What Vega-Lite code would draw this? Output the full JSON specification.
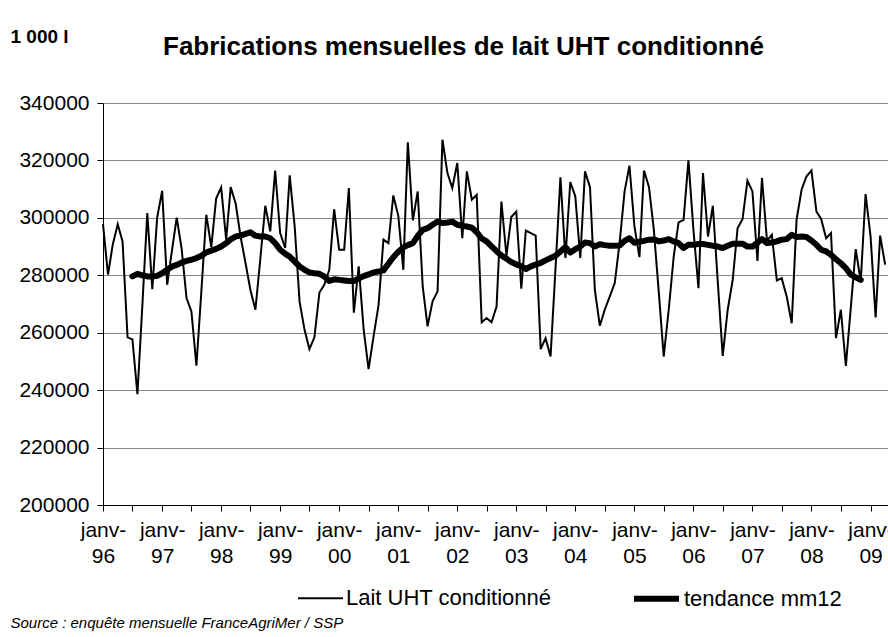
{
  "$schema": "https://vega.github.io/schema/vega-lite/v6.json",
  "autosize": "none",
  "width": 792,
  "height": 402,
  "padding": {"left": 103, "top": 103, "right": 0, "bottom": 132},
  "background": "white",
  "config": {
    "font": "Liberation Sans",
    "view": {"stroke": null}
  },
  "title": {
    "text": "Fabrications mensuelles de lait UHT conditionné",
    "font": "Liberation Sans",
    "fontSize": 26,
    "fontWeight": "bold",
    "color": "black",
    "anchor": "start",
    "frame": "group",
    "baseline": "alphabetic",
    "offset": 0,
    "dx": 60,
    "dy": 54
  },
  "data": {
    "values": [
      {"d": "1996-01-01", "s": "Lait UHT conditionné", "v": 297800},
      {"d": "1996-02-01", "s": "Lait UHT conditionné", "v": 280200},
      {"d": "1996-03-01", "s": "Lait UHT conditionné", "v": 290600},
      {"d": "1996-04-01", "s": "Lait UHT conditionné", "v": 297800},
      {"d": "1996-05-01", "s": "Lait UHT conditionné", "v": 291800},
      {"d": "1996-06-01", "s": "Lait UHT conditionné", "v": 258400},
      {"d": "1996-07-01", "s": "Lait UHT conditionné", "v": 257700},
      {"d": "1996-08-01", "s": "Lait UHT conditionné", "v": 238600},
      {"d": "1996-09-01", "s": "Lait UHT conditionné", "v": 270000},
      {"d": "1996-10-01", "s": "Lait UHT conditionné", "v": 301700},
      {"d": "1996-11-01", "s": "Lait UHT conditionné", "v": 275200},
      {"d": "1996-12-01", "s": "Lait UHT conditionné", "v": 300100},
      {"d": "1997-01-01", "s": "Lait UHT conditionné", "v": 309400},
      {"d": "1997-02-01", "s": "Lait UHT conditionné", "v": 276700},
      {"d": "1997-03-01", "s": "Lait UHT conditionné", "v": 288000},
      {"d": "1997-04-01", "s": "Lait UHT conditionné", "v": 300100},
      {"d": "1997-05-01", "s": "Lait UHT conditionné", "v": 289500},
      {"d": "1997-06-01", "s": "Lait UHT conditionné", "v": 272000},
      {"d": "1997-07-01", "s": "Lait UHT conditionné", "v": 267400},
      {"d": "1997-08-01", "s": "Lait UHT conditionné", "v": 248500},
      {"d": "1997-09-01", "s": "Lait UHT conditionné", "v": 274800},
      {"d": "1997-10-01", "s": "Lait UHT conditionné", "v": 301100},
      {"d": "1997-11-01", "s": "Lait UHT conditionné", "v": 289800},
      {"d": "1997-12-01", "s": "Lait UHT conditionné", "v": 306700},
      {"d": "1998-01-01", "s": "Lait UHT conditionné", "v": 310600},
      {"d": "1998-02-01", "s": "Lait UHT conditionné", "v": 292400},
      {"d": "1998-03-01", "s": "Lait UHT conditionné", "v": 310700},
      {"d": "1998-04-01", "s": "Lait UHT conditionné", "v": 304900},
      {"d": "1998-05-01", "s": "Lait UHT conditionné", "v": 293500},
      {"d": "1998-06-01", "s": "Lait UHT conditionné", "v": 284200},
      {"d": "1998-07-01", "s": "Lait UHT conditionné", "v": 274900},
      {"d": "1998-08-01", "s": "Lait UHT conditionné", "v": 268000},
      {"d": "1998-09-01", "s": "Lait UHT conditionné", "v": 286100},
      {"d": "1998-10-01", "s": "Lait UHT conditionné", "v": 304200},
      {"d": "1998-11-01", "s": "Lait UHT conditionné", "v": 295300},
      {"d": "1998-12-01", "s": "Lait UHT conditionné", "v": 316500},
      {"d": "1999-01-01", "s": "Lait UHT conditionné", "v": 294700},
      {"d": "1999-02-01", "s": "Lait UHT conditionné", "v": 289500},
      {"d": "1999-03-01", "s": "Lait UHT conditionné", "v": 314800},
      {"d": "1999-04-01", "s": "Lait UHT conditionné", "v": 297000},
      {"d": "1999-05-01", "s": "Lait UHT conditionné", "v": 270900},
      {"d": "1999-06-01", "s": "Lait UHT conditionné", "v": 261000},
      {"d": "1999-07-01", "s": "Lait UHT conditionné", "v": 254300},
      {"d": "1999-08-01", "s": "Lait UHT conditionné", "v": 258400},
      {"d": "1999-09-01", "s": "Lait UHT conditionné", "v": 274000},
      {"d": "1999-10-01", "s": "Lait UHT conditionné", "v": 276700},
      {"d": "1999-11-01", "s": "Lait UHT conditionné", "v": 281900},
      {"d": "1999-12-01", "s": "Lait UHT conditionné", "v": 303000},
      {"d": "2000-01-01", "s": "Lait UHT conditionné", "v": 288900},
      {"d": "2000-02-01", "s": "Lait UHT conditionné", "v": 288900},
      {"d": "2000-03-01", "s": "Lait UHT conditionné", "v": 310400},
      {"d": "2000-04-01", "s": "Lait UHT conditionné", "v": 267000},
      {"d": "2000-05-01", "s": "Lait UHT conditionné", "v": 283100},
      {"d": "2000-06-01", "s": "Lait UHT conditionné", "v": 261000},
      {"d": "2000-07-01", "s": "Lait UHT conditionné", "v": 247300},
      {"d": "2000-08-01", "s": "Lait UHT conditionné", "v": 258700},
      {"d": "2000-09-01", "s": "Lait UHT conditionné", "v": 269700},
      {"d": "2000-10-01", "s": "Lait UHT conditionné", "v": 292400},
      {"d": "2000-11-01", "s": "Lait UHT conditionné", "v": 291200},
      {"d": "2000-12-01", "s": "Lait UHT conditionné", "v": 307800},
      {"d": "2001-01-01", "s": "Lait UHT conditionné", "v": 300700},
      {"d": "2001-02-01", "s": "Lait UHT conditionné", "v": 281900},
      {"d": "2001-03-01", "s": "Lait UHT conditionné", "v": 326300},
      {"d": "2001-04-01", "s": "Lait UHT conditionné", "v": 299100},
      {"d": "2001-05-01", "s": "Lait UHT conditionné", "v": 309200},
      {"d": "2001-06-01", "s": "Lait UHT conditionné", "v": 276100},
      {"d": "2001-07-01", "s": "Lait UHT conditionné", "v": 262200},
      {"d": "2001-08-01", "s": "Lait UHT conditionné", "v": 270900},
      {"d": "2001-09-01", "s": "Lait UHT conditionné", "v": 274400},
      {"d": "2001-10-01", "s": "Lait UHT conditionné", "v": 327200},
      {"d": "2001-11-01", "s": "Lait UHT conditionné", "v": 315600},
      {"d": "2001-12-01", "s": "Lait UHT conditionné", "v": 310400},
      {"d": "2002-01-01", "s": "Lait UHT conditionné", "v": 319100},
      {"d": "2002-02-01", "s": "Lait UHT conditionné", "v": 292900},
      {"d": "2002-03-01", "s": "Lait UHT conditionné", "v": 316200},
      {"d": "2002-04-01", "s": "Lait UHT conditionné", "v": 306300},
      {"d": "2002-05-01", "s": "Lait UHT conditionné", "v": 308000},
      {"d": "2002-06-01", "s": "Lait UHT conditionné", "v": 263600},
      {"d": "2002-07-01", "s": "Lait UHT conditionné", "v": 265100},
      {"d": "2002-08-01", "s": "Lait UHT conditionné", "v": 263600},
      {"d": "2002-09-01", "s": "Lait UHT conditionné", "v": 269100},
      {"d": "2002-10-01", "s": "Lait UHT conditionné", "v": 305700},
      {"d": "2002-11-01", "s": "Lait UHT conditionné", "v": 286800},
      {"d": "2002-12-01", "s": "Lait UHT conditionné", "v": 300300},
      {"d": "2003-01-01", "s": "Lait UHT conditionné", "v": 302200},
      {"d": "2003-02-01", "s": "Lait UHT conditionné", "v": 275300},
      {"d": "2003-03-01", "s": "Lait UHT conditionné", "v": 295600},
      {"d": "2003-04-01", "s": "Lait UHT conditionné", "v": 294700},
      {"d": "2003-05-01", "s": "Lait UHT conditionné", "v": 293800},
      {"d": "2003-06-01", "s": "Lait UHT conditionné", "v": 254300},
      {"d": "2003-07-01", "s": "Lait UHT conditionné", "v": 258100},
      {"d": "2003-08-01", "s": "Lait UHT conditionné", "v": 251700},
      {"d": "2003-09-01", "s": "Lait UHT conditionné", "v": 282800},
      {"d": "2003-10-01", "s": "Lait UHT conditionné", "v": 314100},
      {"d": "2003-11-01", "s": "Lait UHT conditionné", "v": 286000},
      {"d": "2003-12-01", "s": "Lait UHT conditionné", "v": 312500},
      {"d": "2004-01-01", "s": "Lait UHT conditionné", "v": 307500},
      {"d": "2004-02-01", "s": "Lait UHT conditionné", "v": 286000},
      {"d": "2004-03-01", "s": "Lait UHT conditionné", "v": 316200},
      {"d": "2004-04-01", "s": "Lait UHT conditionné", "v": 310700},
      {"d": "2004-05-01", "s": "Lait UHT conditionné", "v": 274900},
      {"d": "2004-06-01", "s": "Lait UHT conditionné", "v": 262400},
      {"d": "2004-07-01", "s": "Lait UHT conditionné", "v": 268000},
      {"d": "2004-08-01", "s": "Lait UHT conditionné", "v": 272600},
      {"d": "2004-09-01", "s": "Lait UHT conditionné", "v": 277300},
      {"d": "2004-10-01", "s": "Lait UHT conditionné", "v": 291200},
      {"d": "2004-11-01", "s": "Lait UHT conditionné", "v": 309200},
      {"d": "2004-12-01", "s": "Lait UHT conditionné", "v": 318200},
      {"d": "2005-01-01", "s": "Lait UHT conditionné", "v": 297000},
      {"d": "2005-02-01", "s": "Lait UHT conditionné", "v": 286300},
      {"d": "2005-03-01", "s": "Lait UHT conditionné", "v": 316500},
      {"d": "2005-04-01", "s": "Lait UHT conditionné", "v": 310700},
      {"d": "2005-05-01", "s": "Lait UHT conditionné", "v": 295800},
      {"d": "2005-06-01", "s": "Lait UHT conditionné", "v": 273800},
      {"d": "2005-07-01", "s": "Lait UHT conditionné", "v": 251700},
      {"d": "2005-08-01", "s": "Lait UHT conditionné", "v": 268000},
      {"d": "2005-09-01", "s": "Lait UHT conditionné", "v": 286600},
      {"d": "2005-10-01", "s": "Lait UHT conditionné", "v": 298400},
      {"d": "2005-11-01", "s": "Lait UHT conditionné", "v": 299300},
      {"d": "2005-12-01", "s": "Lait UHT conditionné", "v": 320000},
      {"d": "2006-01-01", "s": "Lait UHT conditionné", "v": 295800},
      {"d": "2006-02-01", "s": "Lait UHT conditionné", "v": 275500},
      {"d": "2006-03-01", "s": "Lait UHT conditionné", "v": 315600},
      {"d": "2006-04-01", "s": "Lait UHT conditionné", "v": 293500},
      {"d": "2006-05-01", "s": "Lait UHT conditionné", "v": 304200},
      {"d": "2006-06-01", "s": "Lait UHT conditionné", "v": 277300},
      {"d": "2006-07-01", "s": "Lait UHT conditionné", "v": 251900},
      {"d": "2006-08-01", "s": "Lait UHT conditionné", "v": 268000},
      {"d": "2006-09-01", "s": "Lait UHT conditionné", "v": 278400},
      {"d": "2006-10-01", "s": "Lait UHT conditionné", "v": 296400},
      {"d": "2006-11-01", "s": "Lait UHT conditionné", "v": 299600},
      {"d": "2006-12-01", "s": "Lait UHT conditionné", "v": 313000},
      {"d": "2007-01-01", "s": "Lait UHT conditionné", "v": 309200},
      {"d": "2007-02-01", "s": "Lait UHT conditionné", "v": 285000},
      {"d": "2007-03-01", "s": "Lait UHT conditionné", "v": 313900},
      {"d": "2007-04-01", "s": "Lait UHT conditionné", "v": 292000},
      {"d": "2007-05-01", "s": "Lait UHT conditionné", "v": 294100},
      {"d": "2007-06-01", "s": "Lait UHT conditionné", "v": 278200},
      {"d": "2007-07-01", "s": "Lait UHT conditionné", "v": 279000},
      {"d": "2007-08-01", "s": "Lait UHT conditionné", "v": 272600},
      {"d": "2007-09-01", "s": "Lait UHT conditionné", "v": 263300},
      {"d": "2007-10-01", "s": "Lait UHT conditionné", "v": 299300},
      {"d": "2007-11-01", "s": "Lait UHT conditionné", "v": 309800},
      {"d": "2007-12-01", "s": "Lait UHT conditionné", "v": 314400},
      {"d": "2008-01-01", "s": "Lait UHT conditionné", "v": 316500},
      {"d": "2008-02-01", "s": "Lait UHT conditionné", "v": 302200},
      {"d": "2008-03-01", "s": "Lait UHT conditionné", "v": 299600},
      {"d": "2008-04-01", "s": "Lait UHT conditionné", "v": 292900},
      {"d": "2008-05-01", "s": "Lait UHT conditionné", "v": 294700},
      {"d": "2008-06-01", "s": "Lait UHT conditionné", "v": 258100},
      {"d": "2008-07-01", "s": "Lait UHT conditionné", "v": 268000},
      {"d": "2008-08-01", "s": "Lait UHT conditionné", "v": 248400},
      {"d": "2008-09-01", "s": "Lait UHT conditionné", "v": 269100},
      {"d": "2008-10-01", "s": "Lait UHT conditionné", "v": 289100},
      {"d": "2008-11-01", "s": "Lait UHT conditionné", "v": 277800},
      {"d": "2008-12-01", "s": "Lait UHT conditionné", "v": 308300},
      {"d": "2009-01-01", "s": "Lait UHT conditionné", "v": 293500},
      {"d": "2009-02-01", "s": "Lait UHT conditionné", "v": 265300},
      {"d": "2009-03-01", "s": "Lait UHT conditionné", "v": 293800},
      {"d": "2009-04-01", "s": "Lait UHT conditionné", "v": 283700},
      {"d": "1996-07-01", "s": "tendance mm12", "v": 279600},
      {"d": "1996-08-01", "s": "tendance mm12", "v": 280500},
      {"d": "1996-09-01", "s": "tendance mm12", "v": 280000},
      {"d": "1996-10-01", "s": "tendance mm12", "v": 279600},
      {"d": "1996-11-01", "s": "tendance mm12", "v": 279600},
      {"d": "1996-12-01", "s": "tendance mm12", "v": 279800},
      {"d": "1997-01-01", "s": "tendance mm12", "v": 280700},
      {"d": "1997-02-01", "s": "tendance mm12", "v": 281900},
      {"d": "1997-03-01", "s": "tendance mm12", "v": 283000},
      {"d": "1997-04-01", "s": "tendance mm12", "v": 283600},
      {"d": "1997-05-01", "s": "tendance mm12", "v": 284400},
      {"d": "1997-06-01", "s": "tendance mm12", "v": 285000},
      {"d": "1997-07-01", "s": "tendance mm12", "v": 285400},
      {"d": "1997-08-01", "s": "tendance mm12", "v": 286000},
      {"d": "1997-09-01", "s": "tendance mm12", "v": 286800},
      {"d": "1997-10-01", "s": "tendance mm12", "v": 288000},
      {"d": "1997-11-01", "s": "tendance mm12", "v": 288600},
      {"d": "1997-12-01", "s": "tendance mm12", "v": 289200},
      {"d": "1998-01-01", "s": "tendance mm12", "v": 290000},
      {"d": "1998-02-01", "s": "tendance mm12", "v": 291200},
      {"d": "1998-03-01", "s": "tendance mm12", "v": 292500},
      {"d": "1998-04-01", "s": "tendance mm12", "v": 293500},
      {"d": "1998-05-01", "s": "tendance mm12", "v": 293800},
      {"d": "1998-06-01", "s": "tendance mm12", "v": 294400},
      {"d": "1998-07-01", "s": "tendance mm12", "v": 295000},
      {"d": "1998-08-01", "s": "tendance mm12", "v": 293800},
      {"d": "1998-09-01", "s": "tendance mm12", "v": 293500},
      {"d": "1998-10-01", "s": "tendance mm12", "v": 293500},
      {"d": "1998-11-01", "s": "tendance mm12", "v": 292900},
      {"d": "1998-12-01", "s": "tendance mm12", "v": 291200},
      {"d": "1999-01-01", "s": "tendance mm12", "v": 288900},
      {"d": "1999-02-01", "s": "tendance mm12", "v": 287500},
      {"d": "1999-03-01", "s": "tendance mm12", "v": 286500},
      {"d": "1999-04-01", "s": "tendance mm12", "v": 284800},
      {"d": "1999-05-01", "s": "tendance mm12", "v": 283100},
      {"d": "1999-06-01", "s": "tendance mm12", "v": 281900},
      {"d": "1999-07-01", "s": "tendance mm12", "v": 281000},
      {"d": "1999-08-01", "s": "tendance mm12", "v": 280700},
      {"d": "1999-09-01", "s": "tendance mm12", "v": 280500},
      {"d": "1999-10-01", "s": "tendance mm12", "v": 279600},
      {"d": "1999-11-01", "s": "tendance mm12", "v": 278000},
      {"d": "1999-12-01", "s": "tendance mm12", "v": 278600},
      {"d": "2000-01-01", "s": "tendance mm12", "v": 278400},
      {"d": "2000-02-01", "s": "tendance mm12", "v": 278200},
      {"d": "2000-03-01", "s": "tendance mm12", "v": 278000},
      {"d": "2000-04-01", "s": "tendance mm12", "v": 278000},
      {"d": "2000-05-01", "s": "tendance mm12", "v": 278900},
      {"d": "2000-06-01", "s": "tendance mm12", "v": 279700},
      {"d": "2000-07-01", "s": "tendance mm12", "v": 280300},
      {"d": "2000-08-01", "s": "tendance mm12", "v": 281000},
      {"d": "2000-09-01", "s": "tendance mm12", "v": 281300},
      {"d": "2000-10-01", "s": "tendance mm12", "v": 281700},
      {"d": "2000-11-01", "s": "tendance mm12", "v": 284000},
      {"d": "2000-12-01", "s": "tendance mm12", "v": 286300},
      {"d": "2001-01-01", "s": "tendance mm12", "v": 288200},
      {"d": "2001-02-01", "s": "tendance mm12", "v": 289700},
      {"d": "2001-03-01", "s": "tendance mm12", "v": 290500},
      {"d": "2001-04-01", "s": "tendance mm12", "v": 291200},
      {"d": "2001-05-01", "s": "tendance mm12", "v": 293700},
      {"d": "2001-06-01", "s": "tendance mm12", "v": 295800},
      {"d": "2001-07-01", "s": "tendance mm12", "v": 296400},
      {"d": "2001-08-01", "s": "tendance mm12", "v": 297600},
      {"d": "2001-09-01", "s": "tendance mm12", "v": 298700},
      {"d": "2001-10-01", "s": "tendance mm12", "v": 298200},
      {"d": "2001-11-01", "s": "tendance mm12", "v": 298400},
      {"d": "2001-12-01", "s": "tendance mm12", "v": 298700},
      {"d": "2002-01-01", "s": "tendance mm12", "v": 297600},
      {"d": "2002-02-01", "s": "tendance mm12", "v": 297200},
      {"d": "2002-03-01", "s": "tendance mm12", "v": 297000},
      {"d": "2002-04-01", "s": "tendance mm12", "v": 296600},
      {"d": "2002-05-01", "s": "tendance mm12", "v": 295000},
      {"d": "2002-06-01", "s": "tendance mm12", "v": 292800},
      {"d": "2002-07-01", "s": "tendance mm12", "v": 291800},
      {"d": "2002-08-01", "s": "tendance mm12", "v": 290100},
      {"d": "2002-09-01", "s": "tendance mm12", "v": 288400},
      {"d": "2002-10-01", "s": "tendance mm12", "v": 286900},
      {"d": "2002-11-01", "s": "tendance mm12", "v": 285800},
      {"d": "2002-12-01", "s": "tendance mm12", "v": 284600},
      {"d": "2003-01-01", "s": "tendance mm12", "v": 283800},
      {"d": "2003-02-01", "s": "tendance mm12", "v": 283100},
      {"d": "2003-03-01", "s": "tendance mm12", "v": 282200},
      {"d": "2003-04-01", "s": "tendance mm12", "v": 283100},
      {"d": "2003-05-01", "s": "tendance mm12", "v": 283700},
      {"d": "2003-06-01", "s": "tendance mm12", "v": 284300},
      {"d": "2003-07-01", "s": "tendance mm12", "v": 285200},
      {"d": "2003-08-01", "s": "tendance mm12", "v": 286000},
      {"d": "2003-09-01", "s": "tendance mm12", "v": 286800},
      {"d": "2003-10-01", "s": "tendance mm12", "v": 288300},
      {"d": "2003-11-01", "s": "tendance mm12", "v": 289800},
      {"d": "2003-12-01", "s": "tendance mm12", "v": 287900},
      {"d": "2004-01-01", "s": "tendance mm12", "v": 289100},
      {"d": "2004-02-01", "s": "tendance mm12", "v": 290000},
      {"d": "2004-03-01", "s": "tendance mm12", "v": 291400},
      {"d": "2004-04-01", "s": "tendance mm12", "v": 291200},
      {"d": "2004-05-01", "s": "tendance mm12", "v": 290000},
      {"d": "2004-06-01", "s": "tendance mm12", "v": 290800},
      {"d": "2004-07-01", "s": "tendance mm12", "v": 290500},
      {"d": "2004-08-01", "s": "tendance mm12", "v": 290300},
      {"d": "2004-09-01", "s": "tendance mm12", "v": 290300},
      {"d": "2004-10-01", "s": "tendance mm12", "v": 290400},
      {"d": "2004-11-01", "s": "tendance mm12", "v": 292000},
      {"d": "2004-12-01", "s": "tendance mm12", "v": 292900},
      {"d": "2005-01-01", "s": "tendance mm12", "v": 291300},
      {"d": "2005-02-01", "s": "tendance mm12", "v": 291700},
      {"d": "2005-03-01", "s": "tendance mm12", "v": 292000},
      {"d": "2005-04-01", "s": "tendance mm12", "v": 292400},
      {"d": "2005-05-01", "s": "tendance mm12", "v": 292500},
      {"d": "2005-06-01", "s": "tendance mm12", "v": 291800},
      {"d": "2005-07-01", "s": "tendance mm12", "v": 292100},
      {"d": "2005-08-01", "s": "tendance mm12", "v": 292600},
      {"d": "2005-09-01", "s": "tendance mm12", "v": 291800},
      {"d": "2005-10-01", "s": "tendance mm12", "v": 291200},
      {"d": "2005-11-01", "s": "tendance mm12", "v": 289500},
      {"d": "2005-12-01", "s": "tendance mm12", "v": 290600},
      {"d": "2006-01-01", "s": "tendance mm12", "v": 290600},
      {"d": "2006-02-01", "s": "tendance mm12", "v": 290900},
      {"d": "2006-03-01", "s": "tendance mm12", "v": 290900},
      {"d": "2006-04-01", "s": "tendance mm12", "v": 290600},
      {"d": "2006-05-01", "s": "tendance mm12", "v": 290300},
      {"d": "2006-06-01", "s": "tendance mm12", "v": 290000},
      {"d": "2006-07-01", "s": "tendance mm12", "v": 289500},
      {"d": "2006-08-01", "s": "tendance mm12", "v": 290300},
      {"d": "2006-09-01", "s": "tendance mm12", "v": 291000},
      {"d": "2006-10-01", "s": "tendance mm12", "v": 291000},
      {"d": "2006-11-01", "s": "tendance mm12", "v": 291000},
      {"d": "2006-12-01", "s": "tendance mm12", "v": 290000},
      {"d": "2007-01-01", "s": "tendance mm12", "v": 290000},
      {"d": "2007-02-01", "s": "tendance mm12", "v": 291400},
      {"d": "2007-03-01", "s": "tendance mm12", "v": 292600},
      {"d": "2007-04-01", "s": "tendance mm12", "v": 291200},
      {"d": "2007-05-01", "s": "tendance mm12", "v": 291400},
      {"d": "2007-06-01", "s": "tendance mm12", "v": 291800},
      {"d": "2007-07-01", "s": "tendance mm12", "v": 292400},
      {"d": "2007-08-01", "s": "tendance mm12", "v": 292600},
      {"d": "2007-09-01", "s": "tendance mm12", "v": 294100},
      {"d": "2007-10-01", "s": "tendance mm12", "v": 293300},
      {"d": "2007-11-01", "s": "tendance mm12", "v": 293500},
      {"d": "2007-12-01", "s": "tendance mm12", "v": 293300},
      {"d": "2008-01-01", "s": "tendance mm12", "v": 292100},
      {"d": "2008-02-01", "s": "tendance mm12", "v": 290600},
      {"d": "2008-03-01", "s": "tendance mm12", "v": 288900},
      {"d": "2008-04-01", "s": "tendance mm12", "v": 288300},
      {"d": "2008-05-01", "s": "tendance mm12", "v": 287100},
      {"d": "2008-06-01", "s": "tendance mm12", "v": 285600},
      {"d": "2008-07-01", "s": "tendance mm12", "v": 284200},
      {"d": "2008-08-01", "s": "tendance mm12", "v": 282500},
      {"d": "2008-09-01", "s": "tendance mm12", "v": 280200},
      {"d": "2008-10-01", "s": "tendance mm12", "v": 279300},
      {"d": "2008-11-01", "s": "tendance mm12", "v": 278400}
    ]
  },
  "encoding": {
    "x": {
      "field": "d",
      "type": "temporal",
      "scale": {
        "type": "utc",
        "nice": false,
        "domain": [
          {"year": 1996, "month": 1, "date": 1, "utc": true},
          {"year": 2009, "month": 6, "date": 1, "utc": true}
        ]
      },
      "axis": {
        "title": "Source : enquête mensuelle FranceAgriMer / SSP",
        "titleFont": "Liberation Sans",
        "titleFontStyle": "italic",
        "titleFontWeight": "normal",
        "titleFontSize": 15,
        "titleColor": "black",
        "titleX": -93,
        "titleY": 117,
        "titleAlign": "left",
        "titleBaseline": "middle",
        "tickCount": {"interval": "month", "step": 6},
        "labelExpr": "utcmonth(datum.value) == 0 ? ['janv-', utcFormat(datum.value, '%y')] : ''",
        "labelFont": "Liberation Sans",
        "labelFontSize": 21,
        "labelColor": "black",
        "labelLineHeight": 26,
        "labelPadding": 8,
        "labelOverlap": false,
        "labelFlush": false,
        "tickColor": "black",
        "tickSize": 6,
        "domainColor": "black",
        "grid": false
      }
    },
    "y": {
      "field": "v",
      "type": "quantitative",
      "scale": {"domain": [200000, 340000], "nice": false, "zero": false},
      "axis": {
        "title": "1 000 l",
        "titleAngle": 0,
        "titleX": -93,
        "titleY": -67,
        "titleAlign": "left",
        "titleBaseline": "middle",
        "titleFont": "Liberation Sans",
        "titleFontSize": 19,
        "titleFontWeight": "bold",
        "titleColor": "black",
        "values": [200000, 220000, 240000, 260000, 280000, 300000, 320000, 340000],
        "format": "d",
        "labelFont": "Liberation Sans",
        "labelFontSize": 21,
        "labelColor": "black",
        "labelPadding": 8,
        "tickSize": 6,
        "tickColor": "black",
        "domainColor": "black",
        "grid": true,
        "gridColor": "#888888",
        "gridWidth": 1
      }
    },
    "strokeWidth": {
      "field": "s",
      "type": "nominal",
      "scale": {"type": "ordinal", "domain": ["Lait UHT conditionné", "tendance mm12"], "range": [2, 6]},
      "legend": {
        "title": null,
        "orient": "none",
        "legendX": 194,
        "legendY": 470,
        "direction": "horizontal",
        "symbolType": "stroke",
        "symbolSize": 2025,
        "symbolStrokeColor": "black",
        "labelFont": "Liberation Sans",
        "labelFontSize": 22,
        "labelColor": "black",
        "labelOffset": 2,
        "labelLimit": 400,
        "columnPadding": 70,
        "padding": 0
      }
    }
  },
  "layer": [
    {
      "transform": [{"filter": "datum.s === 'Lait UHT conditionné'"}],
      "mark": {"type": "line", "color": "black", "strokeJoin": "miter"}
    },
    {
      "transform": [{"filter": "datum.s === 'tendance mm12'"}],
      "mark": {"type": "line", "color": "black", "strokeCap": "round", "strokeJoin": "round"}
    }
  ]
}
